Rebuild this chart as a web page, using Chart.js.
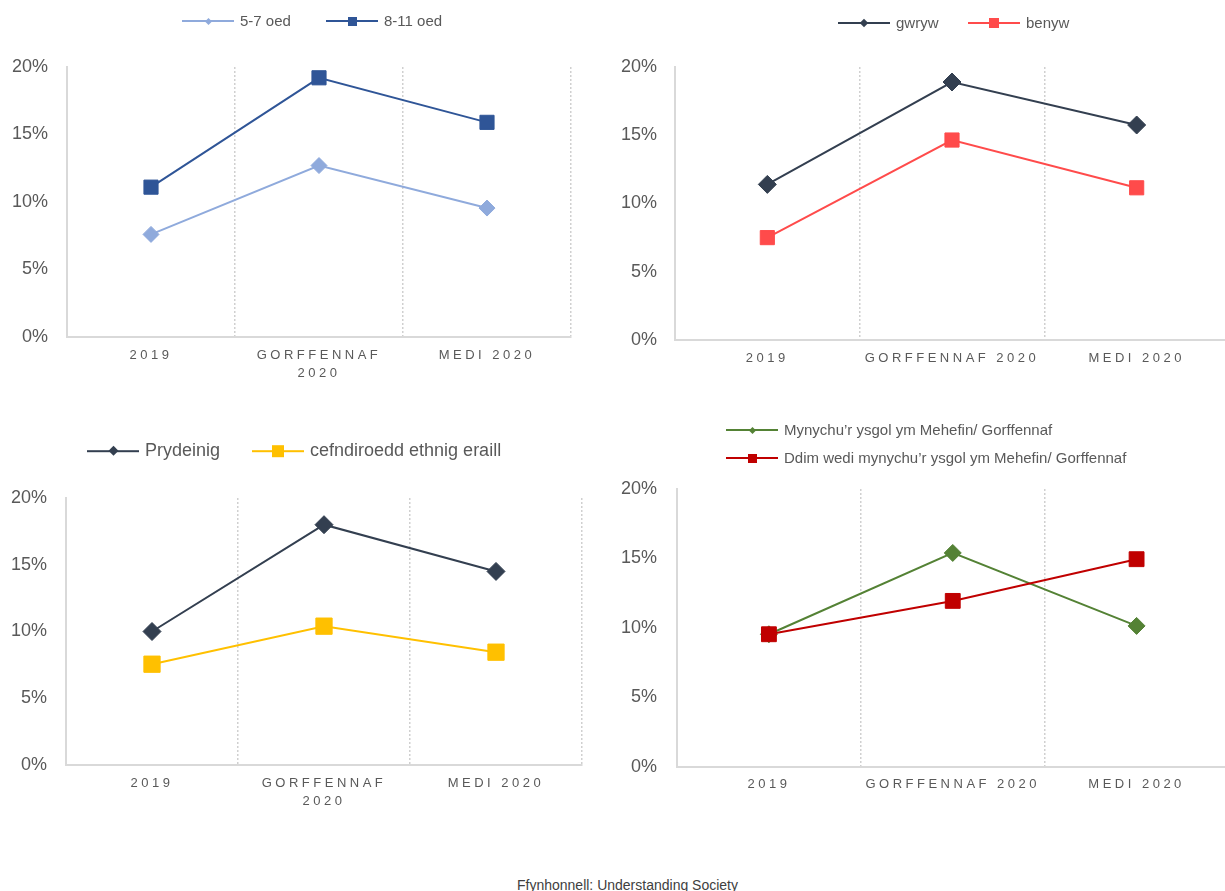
<!DOCTYPE html>
<html>
<head>
<meta charset="utf-8">
<script src="https://cdn.jsdelivr.net/npm/chart.js@4.4.1/dist/chart.umd.min.js"></script>
<style>
  html, body { margin: 0; padding: 0; background: #fff; width: 1225px; height: 891px; overflow: hidden; }
  .panel { position: absolute; }
  .panel canvas { display: block; }
  #legends { position: absolute; left: 0; top: 0; }
  .item { position: absolute; display: flex; align-items: center; transform: translateY(-50%);
          font-family: "Liberation Sans", Arial, sans-serif; color: #595959; white-space: nowrap; line-height: 1.2; }
  .key { position: relative; width: 52px; height: 2px; margin-right: 6px; }
  .mark { position: absolute; left: 50%; top: 50%; }
  .mark.diamond { transform: rotate(45deg); }
  .source { position: absolute; left: 0; top: 877px; width: 1255px; text-align: center;
            font-family: "Liberation Sans", Arial, sans-serif; font-size: 14px; line-height: 16px; color: #404040; }
</style>
</head>
<body>
<div class="panel" style="left:0px;top:0px"><canvas id="ageChart" width="600" height="400"></canvas></div>
<div class="panel" style="left:600px;top:0px"><canvas id="sexChart" width="640" height="400"></canvas></div>
<div class="panel" style="left:0px;top:420px"><canvas id="ethnicChart" width="600" height="400"></canvas></div>
<div class="panel" style="left:600px;top:410px"><canvas id="schoolChart" width="640" height="400"></canvas></div>
<div id="legends"></div>
<div class="source">Ffynhonnell: Understanding Society</div>

<script>
// categories (the left-hand charts wrap the middle label)
const periods = ["2019", "GORFFENNAF 2020", "MEDI 2020"];
const periodsWrapped = ["2019", ["GORFFENNAF", "2020"], "MEDI 2020"];
const percentTicks = [0, 5, 10, 15, 20];

// by age group
const age57 = [7.6, 12.7, 9.55];
const age811 = [11.1, 19.2, 15.9];
// by sex
const male = [11.4, 18.9, 15.75];
const female = [7.5, 14.65, 11.15];
// by ethnic background
const british = [10.0, 18.0, 14.5];
const otherEthnic = [7.55, 10.4, 8.45];
// by school attendance in June/July
const attended = [9.55, 15.4, 10.15];
const notAttended = [9.55, 11.95, 14.95];

const FONT = '"Liberation Sans", Arial, sans-serif';

// the x labels are letter-spaced; they are drawn after the datasets (ticks.z = 1)
const spacedLabels = {
  id: "spacedLabels",
  afterDatasetsDraw(chart) { chart.ctx.letterSpacing = "3.5px"; },
  afterDraw(chart) { chart.ctx.letterSpacing = "0px"; }
};

function series(label, data, color, style, radius, legendMark) {
  return {
    label: label,
    data: data,
    borderColor: color,
    backgroundColor: color,
    borderWidth: 2,
    tension: 0,
    pointStyle: style,
    pointRadius: radius,
    pointBackgroundColor: color,
    pointBorderColor: color,
    pointBorderWidth: 1,
    legendMark: legendMark
  };
}

function createChart(element, labels, datasets, frame) {
  const ctx = document.getElementById(element);
  return new Chart(ctx, {
    type: "line",
    data: { labels: labels, datasets: datasets },
    options: {
      responsive: false,
      animation: false,
      layout: { padding: { left: 0, top: frame.top, right: frame.right, bottom: 0 } },
      plugins: { legend: { display: false }, tooltip: { enabled: false } },
      scales: {
        x: {
          offset: true,
          grid: { offset: true, color: "#D0D0D0", lineWidth: 1.5, drawTicks: false },
          border: { color: "#D9D9D9", width: 2, dash: [2, 2] },
          ticks: {
            color: "#595959",
            font: { family: FONT, size: 13, lineHeight: 1.35 },
            padding: frame.xPad,
            maxRotation: 0,
            autoSkip: false,
            z: 1
          },
          afterFit: (axis) => { axis.height = frame.xHeight; }
        },
        y: {
          min: 0,
          max: 20,
          grid: { display: false, drawTicks: false },
          border: { color: "#D9D9D9", width: 2 },
          ticks: {
            color: "#595959",
            font: { family: FONT, size: 18 },
            padding: frame.yPad,
            callback: (v) => v + "%"
          },
          afterBuildTicks: (axis) => { axis.ticks = percentTicks.map((v) => ({ value: v })); },
          afterFit: (axis) => { axis.width = frame.left; }
        }
      }
    },
    plugins: [spacedLabels]
  });
}

// line + marker keys, placed at page coordinates
function buildLegend(chart, spots, fontSize) {
  const host = document.getElementById("legends");
  chart.data.datasets.forEach((ds, i) => {
    const item = document.createElement("div");
    item.className = "item";
    item.style.left = spots[i][0] + "px";
    item.style.top = spots[i][1] + "px";
    item.style.fontSize = fontSize + "px";

    const key = document.createElement("span");
    key.className = "key";
    key.style.background = ds.borderColor;

    const mark = document.createElement("span");
    const s = ds.legendMark;
    mark.className = "mark " + (ds.pointStyle === "rectRot" ? "diamond" : "square");
    mark.style.width = s + "px";
    mark.style.height = s + "px";
    mark.style.marginLeft = (-s / 2) + "px";
    mark.style.marginTop = (-s / 2) + "px";
    mark.style.background = ds.borderColor;
    key.appendChild(mark);

    const text = document.createElement("span");
    text.textContent = ds.label;

    item.append(key, text);
    host.appendChild(item);
  });
}

const ageChart = createChart(
  "ageChart",
  periodsWrapped,
  [
    series("5-7 oed", age57, "#8FAADC", "rectRot", 8, 5),
    series("8-11 oed", age811, "#2F5597", "rect", 10, 9)
  ],
  { left: 67, right: 29, top: 67, xHeight: 63, xPad: 10, yPad: 19 }
);
buildLegend(ageChart, [[182, 21], [326, 21]], 15);

const sexChart = createChart(
  "sexChart",
  periods,
  [
    series("gwryw", male, "#333F50", "rectRot", 9, 6),
    series("benyw", female, "#FF4B4B", "rect", 10, 10)
  ],
  { left: 75, right: 7, top: 67, xHeight: 60, xPad: 10, yPad: 18 }
);
buildLegend(sexChart, [[838, 23], [968, 23]], 15);

const ethnicChart = createChart(
  "ethnicChart",
  periodsWrapped,
  [
    series("Prydeinig", british, "#333F50", "rectRot", 9, 7),
    series("cefndiroedd ethnig eraill", otherEthnic, "#FFC000", "rect", 11.5, 12)
  ],
  { left: 66, right: 18, top: 78, xHeight: 55, xPad: 10, yPad: 19 }
);
buildLegend(ethnicChart, [[87, 451], [252, 451]], 18);

const attendedSet = series("Mynychu’r ysgol ym Mehefin/ Gorffennaf", attended, "#548235", "rectRot", 8.5, 5);
const notAttendedSet = series("Ddim wedi mynychu’r ysgol ym Mehefin/ Gorffennaf", notAttended, "#C00000", "rect", 10.5, 9);
attendedSet.order = 1;
notAttendedSet.order = 0;
const schoolChart = createChart(
  "schoolChart",
  periods,
  [attendedSet, notAttendedSet],
  { left: 77, right: 8, top: 79, xHeight: 43, xPad: 9, yPad: 20 }
);
buildLegend(schoolChart, [[726, 430], [726, 458]], 15);
</script>
</body>
</html>
